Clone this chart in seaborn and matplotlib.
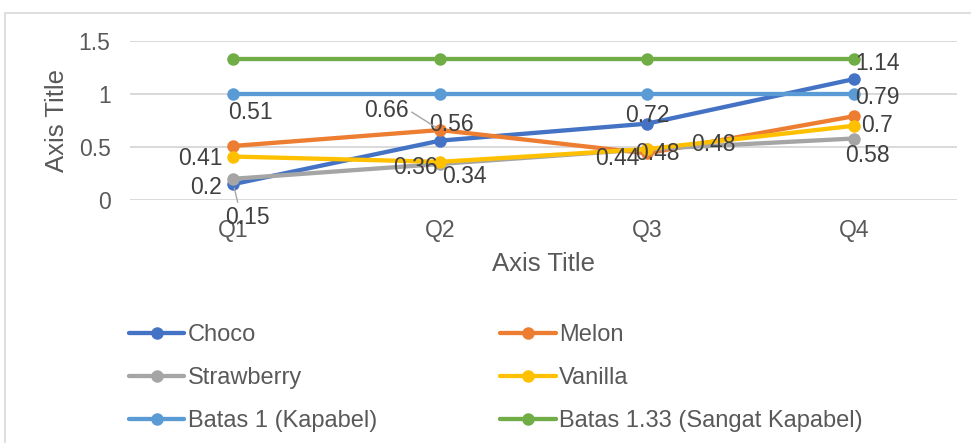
import matplotlib
matplotlib.use("Agg")
import matplotlib.pyplot as plt
import seaborn as sns
import pandas as pd
from matplotlib.lines import Line2D
from matplotlib.patches import Rectangle

# ---- data ----
quarters = ["Q1", "Q2", "Q3", "Q4"]
choco = [0.15, 0.56, 0.72, 1.14]
melon = [0.51, 0.66, 0.44, 0.79]
strawberry = [0.2, 0.34, 0.48, 0.58]
vanilla = [0.41, 0.36, 0.48, 0.7]
batas_1 = [1, 1, 1, 1]
batas_133 = [1.33, 1.33, 1.33, 1.33]
series_names = ["Choco", "Melon", "Strawberry", "Vanilla",
                "Batas 1 (Kapabel)", "Batas 1.33 (Sangat Kapabel)"]
y_ticks = [0, 0.5, 1, 1.5]
y_tick_labels = ["0", "0.5", "1", "1.5"]

# ---- style ----
colors = ["#4472C4", "#ED7D31", "#A5A5A5", "#FFC000", "#5B9BD5", "#70AD47"]
# data-label offsets in pixels (right, up) from each point
label_offsets = {
    "Choco": [(14, -33), (11, 16), (0, 8), (24, 16)],
    "Melon": [(17, 33), (-54, 20), (-30, -5), (24, 19)],
    "Strawberry": [(-27, -9), (24, -13), (67, 5), (14, -17)],
    "Vanilla": [(-33, -2), (-25, -6), (10, -4), (23, 0)],
}
leaders = {("Choco", 0): (0.3, 1.0), ("Melon", 1): (1.0, 0.5)}

sns.set_theme(style="white")
plt.rcParams["font.family"] = ["Liberation Sans", "DejaVu Sans"]

all_values = [choco, melon, strawberry, vanilla, batas_1, batas_133]
df = pd.DataFrame(
    [(name, q, v) for name, vals in zip(series_names, all_values)
     for q, v in zip(quarters, vals)],
    columns=["Series", "Quarter", "Value"],
)

fig = plt.figure(figsize=(9.71, 4.43), dpi=100)
ax = fig.add_axes([130 / 971, 1 - 200 / 443, 827 / 971, 159 / 443])

LW, MS = 3.1, 9
sns.lineplot(data=df, x="Quarter", y="Value", hue="Series",
             hue_order=series_names, palette=colors, marker="o",
             markersize=MS, markeredgewidth=0, linewidth=LW,
             sort=False, legend=False, ax=ax)

ax.set_xlim(-0.5, 3.5)
ax.set_ylim(0, 1.5)
ax.set_yticks(y_ticks)
ax.set_yticklabels(y_tick_labels)
ax.yaxis.grid(True, color="#D9D9D9", linewidth=1.4)
ax.set_axisbelow(True)
for s in ax.spines.values():
    s.set_visible(False)
ax.tick_params(axis="both", length=0, labelsize=16.5, labelcolor="#595959")
ax.tick_params(axis="y", pad=14)
ax.tick_params(axis="x", pad=13.5)

ax.set_xlabel("Axis Title", fontsize=18.5, color="#595959")
ax.set_ylabel("Axis Title", fontsize=18.5, color="#595959")
ax.xaxis.set_label_coords(0.5, -0.33)
ax.yaxis.set_label_coords(-0.074, 0.5)

# data labels
for name, vals in zip(series_names[:4], all_values[:4]):
    for i, v in enumerate(vals):
        dx, dy = label_offsets[name][i]
        kw = {}
        if (name, i) in leaders:
            kw["arrowprops"] = dict(arrowstyle="-", color="#A6A6A6", lw=1,
                                    relpos=leaders[(name, i)],
                                    shrinkA=0, shrinkB=3)
        ax.annotate(f"{v:g}", xy=(i, v), xytext=(dx, dy),
                    textcoords="offset pixels", ha="center", va="center",
                    fontsize=16.5, color="#404040", zorder=10, **kw)

# legend, filled row by row
handles = [Line2D([], [], color=c, lw=LW, marker="o", ms=MS, mew=0)
           for c in colors]
order = [0, 2, 4, 1, 3, 5]
fig.legend([handles[k] for k in order], [series_names[k] for k in order],
           ncol=2, loc="upper left", bbox_to_anchor=(129 / 971, 1 - 324 / 443),
           frameon=False, fontsize=17, labelcolor="#595959",
           handlelength=2.35, handletextpad=0.15, columnspacing=5.2,
           labelspacing=0.9, borderpad=0, borderaxespad=0)

# chart area border
fig.patches.append(Rectangle((5 / 971, -0.01), 1.0, 1 - 13 / 443 + 0.01,
                             transform=fig.transFigure, fill=False,
                             edgecolor="#D9D9D9", linewidth=1.2))

fig.savefig("out.png", dpi=100)
